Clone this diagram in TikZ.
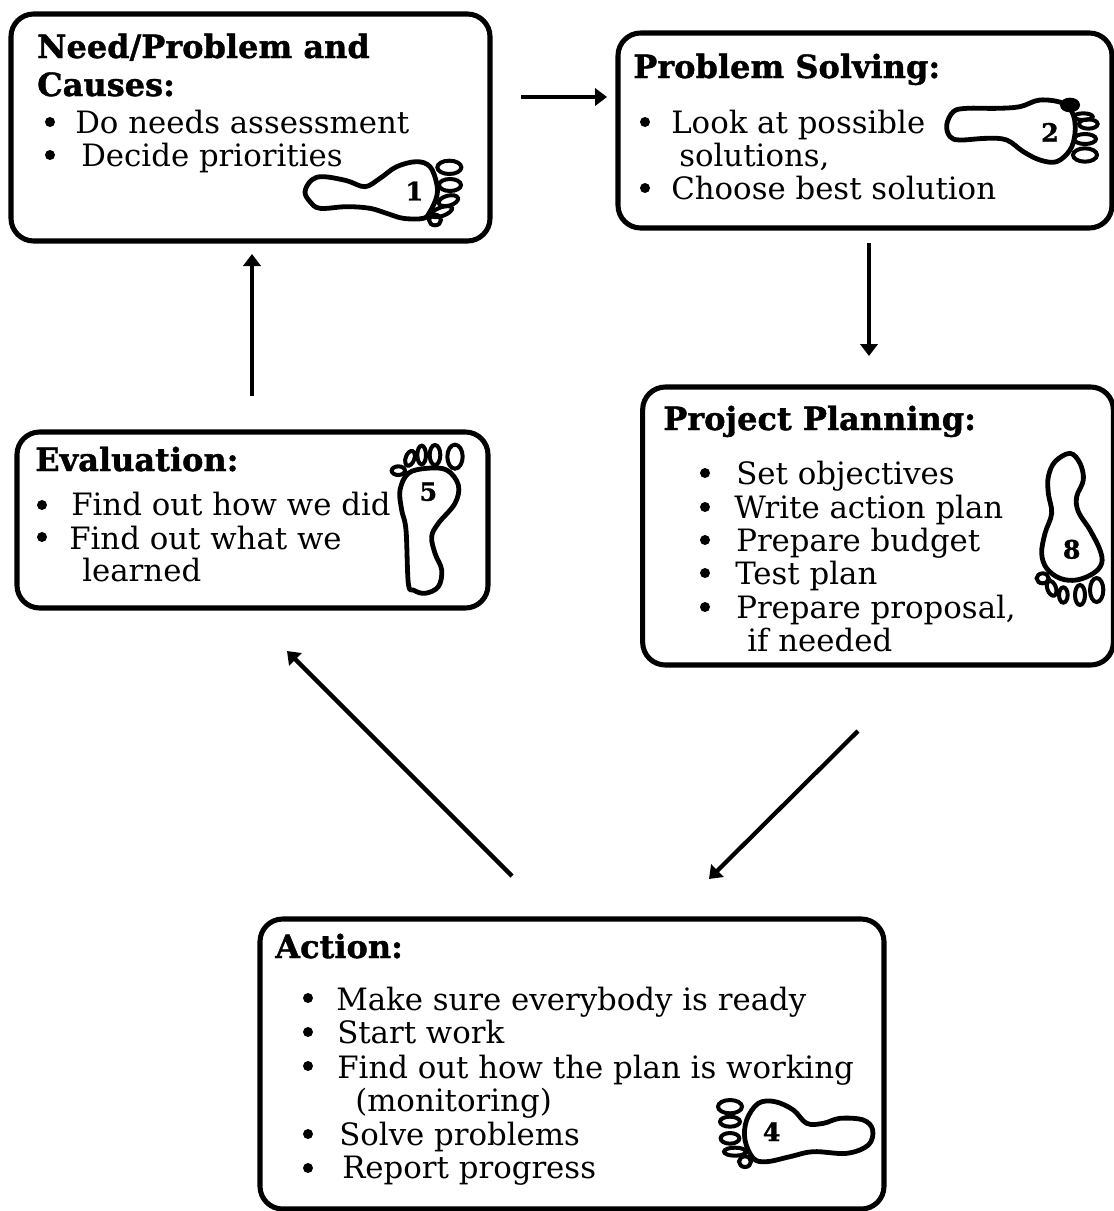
\documentclass[tikz,border=0pt]{standalone}
\usepackage{fontspec}
\setmainfont{DejaVu Serif}
\newfontfamily\headfont[FakeBold=1.2]{DejaVu Serif Bold}
\usetikzlibrary{arrows.meta}
\tikzset{
  box/.style={draw,line width=3.8pt,rounded corners=17pt,inner sep=0pt,outer sep=0pt},
  head/.style={anchor=base west,inner sep=0pt,yshift=-0.75pt,font=\fontsize{24}{26}\headfont},
  txt/.style={anchor=base west,inner sep=0pt,yshift=-0.75pt,font=\fontsize{23.1}{26}\selectfont},
  dig/.style={inner sep=0pt,font=\fontsize{19}{20}\headfont},
  bul/.style={fill,circle,inner sep=0pt,minimum size=7.5pt},
  arr/.style={line width=3.2pt,-{Triangle[length=9pt,width=13pt]}},
  sole/.style={line width=3.6pt,line join=round},
  toe/.style={line width=3pt},
  foot/.style={x=0.25pt,y=-0.25pt}
}
\begin{document}
\begin{tikzpicture}[x=0.75pt,y=-0.75pt]
\useasboundingbox[fill=white] (0,0) rectangle (1114,1211);
% boxes
\node[box,minimum width=359.25pt,minimum height=170.25pt] (b1) at (250.5,127.5) {};
\node[box,minimum width=370.5pt,minimum height=146.25pt] (b2) at (865,130.5) {};
\node[box,minimum width=353pt,minimum height=208.5pt] (b3) at (878,526) {};
\node[box,minimum width=353.25pt,minimum height=132pt] (b5) at (252.5,520) {};
\node[box,minimum width=468pt,minimum height=217.5pt] (b4) at (572,1064) {};
% arrows
\coordinate (a12s) at (521,97); \coordinate (a12e) at (607,97);
\coordinate (a23s) at (869,243); \coordinate (a23e) at (869,356);
\coordinate (a34s) at (858,731); \coordinate (a34e) at (709,879);
\coordinate (a45s) at (512,876); \coordinate (a45e) at (287,651);
\coordinate (a51s) at (252,396); \coordinate (a51e) at (252,254);
\draw[arr] (a12s) -- (a12e);
\draw[arr] (a23s) -- (a23e);
\draw[arr] (a34s) -- (a34e);
\draw[arr] (a45s) -- (a45e);
\draw[arr] (a51s) -- (a51e);
% box 1
\node[head] (t11) at (37,57) {Need/Problem and};
\node[head] (t12) at (37,95) {Causes:};
\node[bul] (p11) at (50,122) {}; \node[txt] (t13) at (75,132) {Do needs assessment};
\node[bul] (p12) at (50,155) {}; \node[txt] (t14) at (81,165) {Decide priorities};
% box 2
\node[head] (t21) at (633,77) {Problem Solving:};
\node[bul] (p21) at (645,122) {}; \node[txt] (t22) at (671,132) {Look at possible};
\node[txt] (t23) at (679,165) {solutions,};
\node[bul] (p22) at (645,188) {}; \node[txt] (t24) at (671,198) {Choose best solution};
% box 3
\node[head] (t31) at (663,429) {Project Planning:};
\node[bul] (p31) at (705,473) {}; \node[txt] (t32) at (736,483) {Set objectives};
\node[bul] (p32) at (705,507) {}; \node[txt] (t33) at (734,517) {Write action plan};
\node[bul] (p33) at (705,540) {}; \node[txt] (t34) at (736,550) {Prepare budget};
\node[bul] (p34) at (705,573) {}; \node[txt] (t35) at (735,583) {Test plan};
\node[bul] (p35) at (705,607) {}; \node[txt] (t36) at (736,617) {Prepare proposal,};
\node[txt] (t37) at (747,650) {if needed};
% box 5
\node[head] (t51) at (35,470) {Evaluation:};
\node[bul] (p51) at (42,505) {}; \node[txt] (t52) at (71,514) {Find out how we did};
\node[bul] (p52) at (42,537) {}; \node[txt] (t53) at (69,548) {Find out what we};
\node[txt] (t54) at (82,580) {learned};
% box 4
\node[head] (t41) at (275,957) {Action:};
\node[bul] (p41) at (308,998) {}; \node[txt] (t42) at (336,1009) {Make sure everybody is ready};
\node[bul] (p42) at (308,1032) {}; \node[txt] (t43) at (337,1042) {Start work};
\node[bul] (p43) at (308,1066) {}; \node[txt] (t44) at (337,1077) {Find out how the plan is working};
\node[txt] (t45) at (355,1110) {(monitoring)};
\node[bul] (p44) at (308,1134) {}; \node[txt] (t46) at (339,1144) {Solve problems};
\node[bul] (p45) at (308,1168) {}; \node[txt] (t47) at (342,1177) {Report progress};
% foot 1
\begin{scope}[shift={(280,140)},foot]
\draw[sole] plot[smooth cycle,tension=0.6] coordinates {(75,155)(95,120)(130,110)(200,122)(255,140)(300,115)(350,80)(410,65)(450,80)(470,130)(470,170)(450,215)(430,235)(370,235)(320,220)(270,205)(200,200)(120,205)(90,185)};
\draw[toe] (508,82) ellipse [x radius=36,y radius=20];
\draw[toe] (510,135) ellipse [x radius=33,y radius=18];
\draw[toe,rotate around={15:(505,182)}] (505,182) ellipse [x radius=30,y radius=15];
\draw[toe,rotate around={20:(485,215)}] (485,215) ellipse [x radius=33,y radius=13];
\draw[toe] (465,240) ellipse [x radius=18,y radius=16];
\node[dig] (d1) at (403,153) {1};
\end{scope}
% foot 2
\begin{scope}[shift={(930,80)},foot]
\draw[sole] plot[smooth cycle,tension=0.6] coordinates {(50,135)(70,95)(110,85)(200,85)(270,80)(330,60)(400,70)(430,105)(435,160)(420,210)(380,245)(330,240)(280,215)(230,180)(170,175)(90,180)(60,170)};
\draw[toe,fill] (420,75) ellipse [x radius=24,y radius=16];
\draw[toe] (460,110) ellipse [x radius=28,y radius=10];
\draw[toe] (475,132) ellipse [x radius=28,y radius=14];
\draw[toe] (465,177) ellipse [x radius=33,y radius=15];
\draw[toe] (465,225) ellipse [x radius=36,y radius=20];
\node[dig] (d2) at (360,157) {2};
\end{scope}
% foot 3
\begin{scope}[shift={(1020,440)},foot]
\draw[sole] plot[smooth cycle,tension=0.6] coordinates {(85,110)(105,65)(150,40)(180,70)(190,120)(170,170)(175,215)(210,270)(240,330)(245,370)(220,400)(170,420)(120,415)(80,385)(65,340)(75,280)(95,220)(85,160)};
\draw[toe] (230,450) ellipse [x radius=20,y radius=36];
\draw[toe] (180,465) ellipse [x radius=15,y radius=30];
\draw[toe] (130,465) ellipse [x radius=13,y radius=23];
\draw[toe,rotate around={20:(95,445)}] (95,445) ellipse [x radius=13,y radius=23];
\draw[toe] (68,415) ellipse [x radius=18,y radius=15];
\node[dig] (d3) at (155,328) {8};
\end{scope}
% foot 5
\begin{scope}[shift={(380,430)},foot]
\draw[sole] plot[smooth cycle,tension=0.6] coordinates {(85,460)(78,300)(65,240)(60,180)(85,130)(140,115)(200,120)(235,165)(225,220)(175,280)(155,320)(165,370)(185,420)(175,470)(135,490)(100,480)};
\draw[toe] (225,80) ellipse [x radius=23,y radius=36];
\draw[toe] (165,75) ellipse [x radius=16,y radius=30];
\draw[toe] (125,75) ellipse [x radius=13,y radius=28];
\draw[toe,rotate around={-20:(90,85)}] (90,85) ellipse [x radius=13,y radius=23];
\draw[toe] (55,122) ellipse [x radius=20,y radius=13];
\node[dig] (d5) at (145,185) {5};
\end{scope}
% foot 4
\begin{scope}[shift={(700,1080)},foot]
\draw[sole] plot[smooth cycle,tension=0.6] coordinates {(140,120)(175,70)(225,65)(280,90)(320,130)(370,130)(420,115)(490,120)(518,150)(505,195)(440,220)(340,215)(270,230)(200,245)(160,235)(135,180)};
\draw[toe] (90,80) ellipse [x radius=36,y radius=20];
\draw[toe] (90,125) ellipse [x radius=30,y radius=15];
\draw[toe] (90,175) ellipse [x radius=28,y radius=16];
\draw[toe] (105,215) ellipse [x radius=33,y radius=12];
\draw[toe] (135,245) ellipse [x radius=18,y radius=16];
\node[dig] (d4) at (215,155) {4};
\end{scope}
\end{tikzpicture}
\end{document}
